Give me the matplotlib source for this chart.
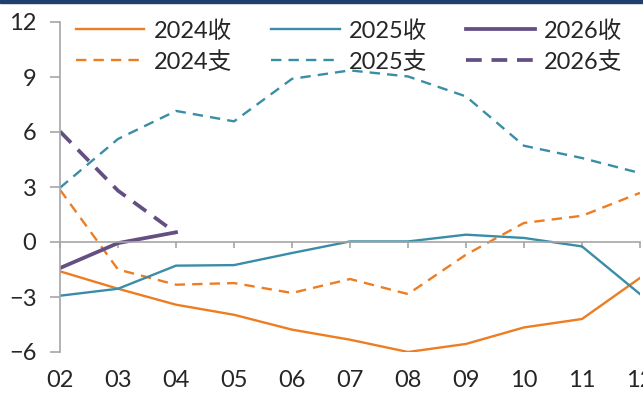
import matplotlib
matplotlib.use('Agg')
from matplotlib import pyplot as plt
from matplotlib.patches import Rectangle

plt.rcParams['font.family'] = ['Lato', 'Noto Sans CJK SC', 'DejaVu Sans']

months = ['02', '03', '04', '05', '06', '07', '08', '09', '10', '11', '12']

shou_2024 = [-1.6, -2.55, -3.42, -3.97, -4.78, -5.33, -6.0, -5.56, -4.66, -4.2, -1.96]
zhi_2024 = [2.85, -1.5, -2.33, -2.24, -2.78, -2.02, -2.84, -0.69, 1.04, 1.43, 2.68]
shou_2025 = [-2.93, -2.55, -1.29, -1.26, -0.6, 0.03, 0.03, 0.4, 0.22, -0.24, -2.84]
zhi_2025 = [2.96, 5.62, 7.15, 6.58, 8.9, 9.36, 9.03, 7.94, 5.25, 4.58, 3.76]
shou_2026 = [-1.42, -0.06, 0.53]
zhi_2026 = [6.03, 2.8, 0.49]

orange = '#EE7D22'
teal = '#3A8DA6'
purple = '#644F83'
grey = '#A6A6A6'

fig = plt.figure(figsize=(6.43, 3.97), dpi=100)
ax = fig.add_axes([60/643, 1 - 352/397, 580/643, 330/397])

x = list(range(len(months)))
x26 = x[:len(shou_2026)]

ax.plot(x, shou_2024, color=orange, lw=1.7, label='2024收')
ax.plot(x, zhi_2024, color=orange, lw=1.7, dashes=(4.4, 3.0), label='2024支')
ax.plot(x, shou_2025, color=teal, lw=1.7, label='2025收')
ax.plot(x, zhi_2025, color=teal, lw=1.7, dashes=(4.4, 3.0), label='2025支')
ax.plot(x26, shou_2026, color=purple, lw=2.7, label='2026收')
ax.plot(x26, zhi_2026, color=purple, lw=2.7, dashes=(4.2, 2.6), label='2026支')

ax.set_xlim(0, 10)
ax.set_ylim(-6, 12)
ax.set_yticks([-6, -3, 0, 3, 6, 9, 12])

for s in ['top', 'right']:
    ax.spines[s].set_visible(False)
ax.spines['left'].set_color(grey)
ax.spines['left'].set_linewidth(1.2)
ax.spines['bottom'].set_position(('data', 0))
ax.spines['bottom'].set_color(grey)
ax.spines['bottom'].set_linewidth(1.2)
ax.set_xticks(x)
ax.tick_params(axis='x', direction='out', length=4.5, color=grey, width=1.2,
               labelbottom=False)
ax.tick_params(axis='y', direction='out', length=7, color=grey, width=1.2,
               pad=10, labelsize=17, labelcolor='#262626')

sec = ax.secondary_xaxis('bottom')
sec.set_xticks(x)
sec.set_xticklabels(months)
sec.spines['bottom'].set_visible(False)
sec.tick_params(length=0, pad=13, labelsize=17, labelcolor='#262626')

ax.legend(ncol=3, loc='upper left', bbox_to_anchor=(76/643, 1 - 20/397),
          bbox_transform=fig.transFigure, frameon=False, fontsize=17,
          handlelength=2.9, handletextpad=0.4, columnspacing=1.65,
          labelspacing=0.38, borderaxespad=0, borderpad=0,
          labelcolor='#262626')

fig.patches.append(Rectangle((0, 1 - 3/397), 1, 3/397, transform=fig.transFigure,
                             color='#1F3F6E', zorder=10))

plt.savefig('out.png', dpi=100)
